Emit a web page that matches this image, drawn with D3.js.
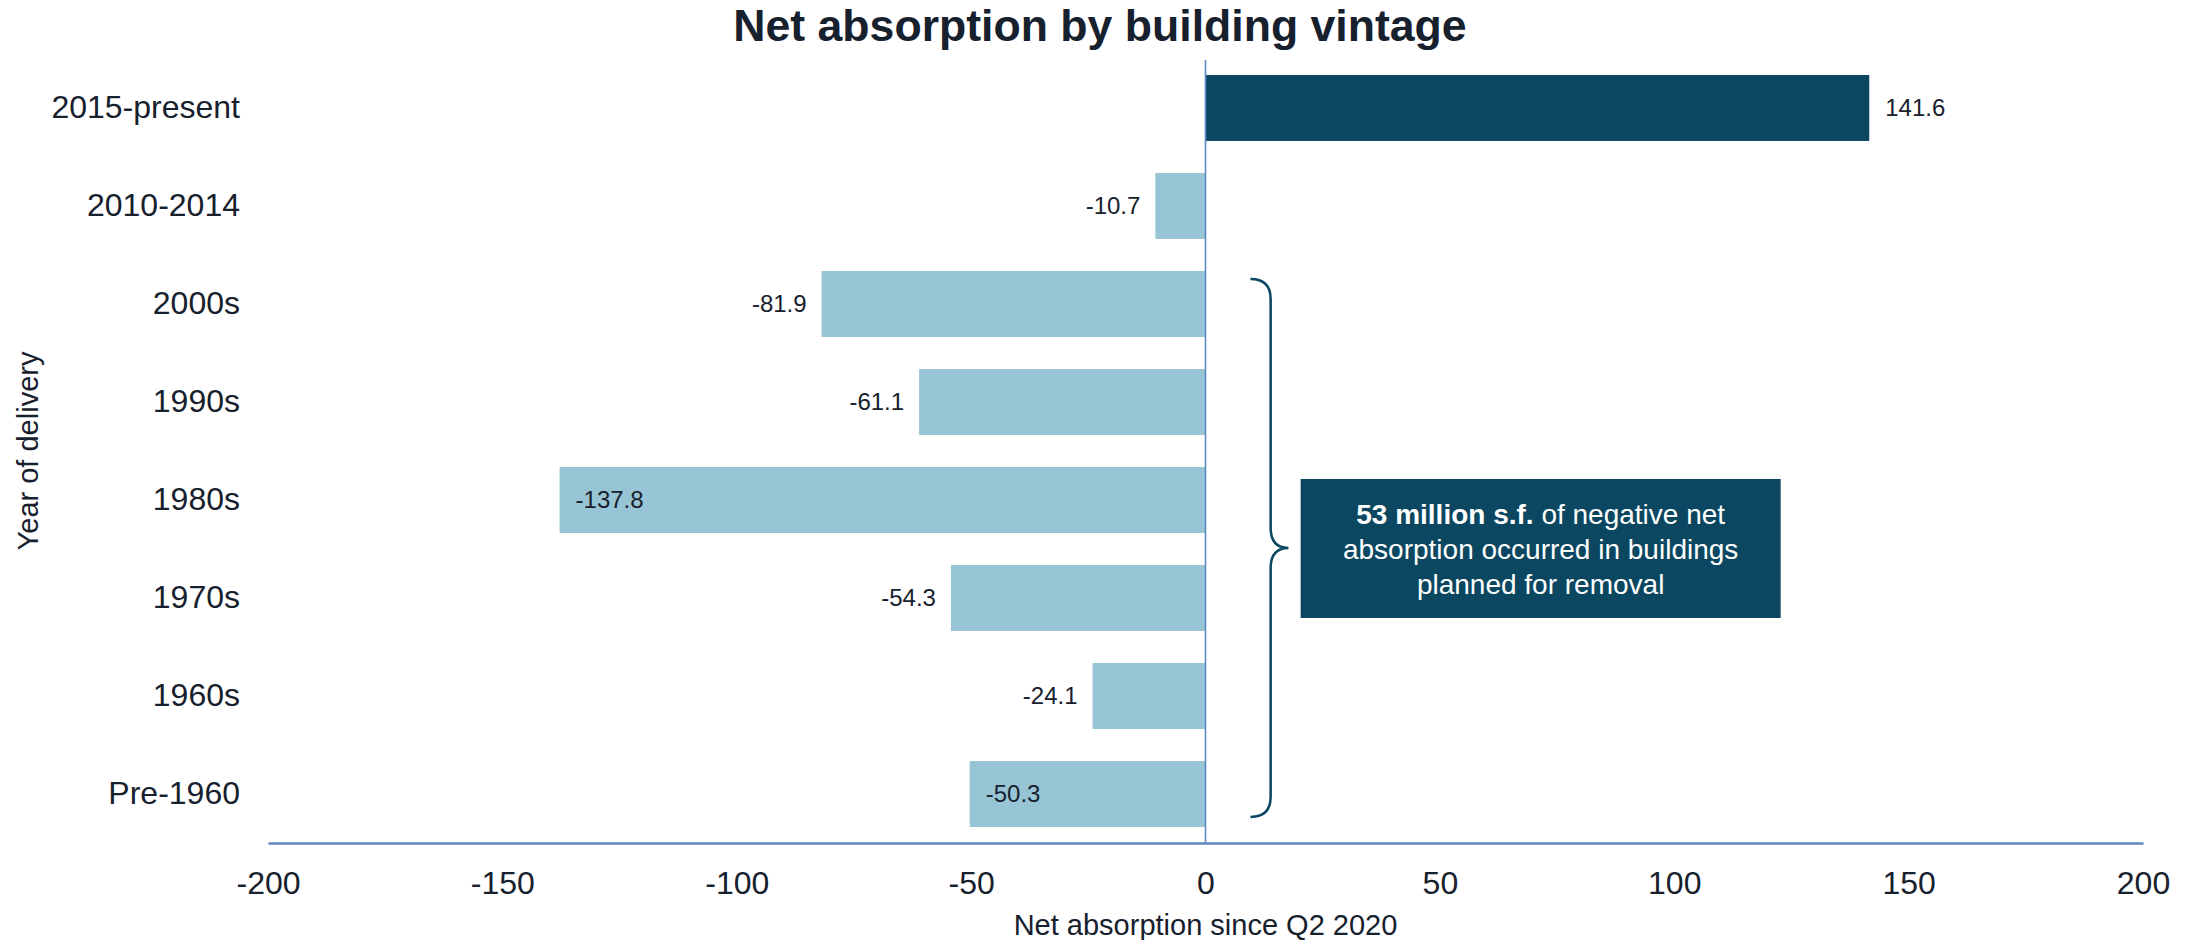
<!DOCTYPE html>
<html>
<head>
<meta charset="utf-8">
<script src="https://cdn.jsdelivr.net/npm/d3@7"></script>
<style>
  html, body { margin: 0; padding: 0; background: #ffffff; }
  svg text { font-family: Arial, "Liberation Sans", sans-serif; }
</style>
</head>
<body>
<svg id="chart" width="2189" height="940"></svg>
<script>
// Building vintages, top to bottom
const categories = ["2015-present", "2010-2014", "2000s", "1990s", "1980s", "1970s", "1960s", "Pre-1960"];
// Net absorption since Q2 2020 (million s.f.)
const values = [141.6, -10.7, -81.9, -61.1, -137.8, -54.3, -24.1, -50.3];
// Vintages whose value label sits inside the bar
const labelInside = ["1980s", "Pre-1960"];
// Vintages grouped by the bracket callout
const bracketGroup = ["2000s", "1990s", "1980s", "1970s", "1960s", "Pre-1960"];
const xTicks = [-200, -150, -100, -50, 0, 50, 100, 150, 200];

const title = "Net absorption by building vintage";
const xTitle = "Net absorption since Q2 2020";
const yTitle = "Year of delivery";
const noteBold = "53 million s.f.";
const noteLines = [" of negative net", "absorption occurred in buildings", "planned for removal"];

const DARK = "#0b4760";
const LIGHT = "#97c5d5";
const AXIS = "#5f89c2";
const INK = "#17202d";

// plain hyphen for negatives
const fmtValue = v => (v < 0 ? "-" : "") + Math.abs(v).toFixed(1);
const fmtTick = v => (v < 0 ? "-" : "") + Math.abs(v);

const svg = d3.select("#chart");

const x = d3.scaleLinear().domain([-200, 200]).range([268, 2143]);
const y = d3.scaleBand().domain(categories).range([60, 842])
  .paddingInner(0.327).paddingOuter(0.153);

// Title
svg.append("text")
  .attr("x", 1100).attr("y", 41)
  .attr("text-anchor", "middle")
  .attr("font-size", 44.6).attr("font-weight", "bold")
  .attr("fill", INK)
  .text(title);

// Bars
const rows = categories.map((c, i) => ({ cat: c, v: values[i] }));
svg.append("g").selectAll("rect")
  .data(rows).join("rect")
  .attr("x", d => x(Math.min(0, d.v)))
  .attr("y", d => y(d.cat))
  .attr("width", d => Math.abs(x(d.v) - x(0)))
  .attr("height", y.bandwidth())
  .attr("fill", d => d.v >= 0 ? DARK : LIGHT);

// Value labels
svg.append("g").selectAll("text")
  .data(rows).join("text")
  .attr("x", d => {
    if (d.v >= 0) return x(d.v) + 16;
    return labelInside.includes(d.cat) ? x(d.v) + 16 : x(d.v) - 15;
  })
  .attr("y", d => y(d.cat) + y.bandwidth() / 2)
  .attr("dy", "0.35em")
  .attr("text-anchor", d => (d.v >= 0 || labelInside.includes(d.cat)) ? "start" : "end")
  .attr("font-size", 24)
  .attr("fill", INK)
  .text(d => fmtValue(d.v));

// Zero line
svg.append("line")
  .attr("x1", x(0)).attr("x2", x(0))
  .attr("y1", 60).attr("y2", 843)
  .attr("stroke", AXIS).attr("stroke-width", 1.6);

// X axis
const xAxis = svg.append("g")
  .attr("transform", "translate(0,843)")
  .call(d3.axisBottom(x).tickValues(xTicks).tickFormat(fmtTick)
    .tickSize(0).tickSizeOuter(0).tickPadding(28));
xAxis.select(".domain").attr("stroke", AXIS).attr("stroke-width", 2.5);
xAxis.selectAll("text")
  .attr("font-size", 32).attr("fill", INK)
  .attr("font-family", "Arial, 'Liberation Sans', sans-serif");

// Y axis
const yAxis = svg.append("g")
  .attr("transform", "translate(240,0)")
  .call(d3.axisLeft(y).tickSize(0).tickPadding(0));
yAxis.select(".domain").remove();
yAxis.selectAll("text")
  .attr("font-size", 32).attr("fill", INK)
  .attr("font-family", "Arial, 'Liberation Sans', sans-serif");

// Axis titles
svg.append("text")
  .attr("x", x(0)).attr("y", 935)
  .attr("text-anchor", "middle")
  .attr("font-size", 29).attr("fill", INK)
  .text(xTitle);

svg.append("text")
  .attr("transform", "translate(38,451) rotate(-90)")
  .attr("text-anchor", "middle")
  .attr("font-size", 29).attr("fill", INK)
  .text(yTitle);

// Bracket around the older vintages
const bTop = y(bracketGroup[0]) + 8;
const bBot = y(bracketGroup[bracketGroup.length - 1]) + y.bandwidth() - 10;
const bMid = (bTop + bBot) / 2;
const xEnd = x(9.6), xSpine = x(13.9), xTip = x(17.7);
const r = xSpine - xEnd;
const bracePath = d3.path();
bracePath.moveTo(xEnd, bTop);
bracePath.quadraticCurveTo(xSpine, bTop, xSpine, bTop + r);
bracePath.lineTo(xSpine, bMid - r);
bracePath.quadraticCurveTo(xSpine, bMid, xTip, bMid);
bracePath.quadraticCurveTo(xSpine, bMid, xSpine, bMid + r);
bracePath.lineTo(xSpine, bBot - r);
bracePath.quadraticCurveTo(xSpine, bBot, xEnd, bBot);
svg.append("path")
  .attr("d", bracePath.toString())
  .attr("fill", "none").attr("stroke", DARK).attr("stroke-width", 2.5);

// Callout box
const boxX0 = x(20.3), boxX1 = x(122.7);
svg.append("rect")
  .attr("x", boxX0).attr("y", 479)
  .attr("width", boxX1 - boxX0).attr("height", 139)
  .attr("fill", DARK);

const note = svg.append("text")
  .attr("text-anchor", "middle")
  .attr("font-size", 28).attr("fill", "#ffffff");
const cx = (boxX0 + boxX1) / 2;
const first = note.append("tspan").attr("x", cx).attr("y", 524);
first.append("tspan").attr("font-weight", "bold").text(noteBold);
first.append("tspan").text(noteLines[0]);
note.append("tspan").attr("x", cx).attr("y", 559).text(noteLines[1]);
note.append("tspan").attr("x", cx).attr("y", 594).text(noteLines[2]);
</script>
</body>
</html>
